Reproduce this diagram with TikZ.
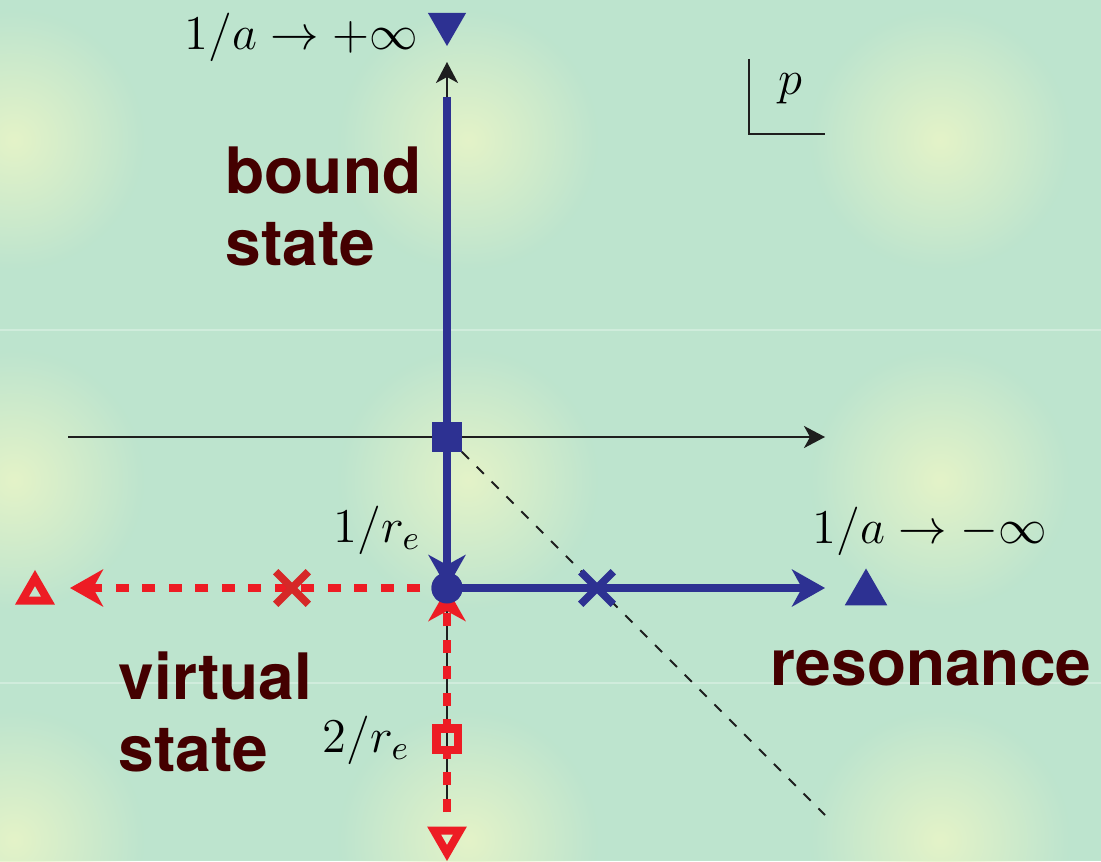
\RequirePackage{fix-cm}
\documentclass[tikz,border=0pt]{standalone}
\usepackage{fontspec}
\usepackage{tikz}
\usetikzlibrary{arrows.meta, shapes.geometric, shapes.misc, fadings}
\newfontfamily\headfont{TeX Gyre Heros}
\definecolor{bgclr}    {RGB}{189, 228, 206}
\definecolor{glowclr}  {RGB}{228, 243, 200}
\definecolor{blueclr}  {RGB}{ 45,  49, 146}
\definecolor{redclr}   {RGB}{237,  28,  36}
\definecolor{crossred} {RGB}{214,  40,  40}
\definecolor{labelclr} {RGB}{ 68,   0,   0}
\definecolor{darktext} {RGB}{ 30,  30,  30}
\tikzfading[name=glowfade, inner color=transparent!0, outer color=transparent!100]

\begin{document}
\begin{tikzpicture}[x=0.01cm, y=-0.01cm,
  bigtip/.style={-{Stealth[length=0.33cm, width=0.37cm, inset=0.1cm]}},
  smalltip/.style={-{Stealth[length=0.21cm, width=0.22cm, inset=0.06cm]}},
  axisline/.style={darktext, line width=0.02cm},
  blueline/.style={blueclr, line width=0.08cm},
  redline/.style={redclr, line width=0.075cm, dash pattern=on 0.13cm off 0.135cm},
  statelabel/.style={text=labelclr, inner sep=0, align=left,
    font=\headfont\bfseries\fontsize{18.2}{20.5}\selectfont},
  mathlabel/.style={inner sep=0, anchor=base west, font=\fontsize{13.8}{16}\selectfont},
  fullsq/.style={rectangle, fill=blueclr, minimum size=0.30cm, inner sep=0},
  fulldot/.style={circle, fill=blueclr, minimum size=0.31cm, inner sep=0},
  opensq/.style={rectangle, draw=redclr, line width=0.085cm, minimum size=0.215cm, inner sep=0},
  crossmark/.style={cross out, line width=0.075cm, minimum size=0.25cm, inner sep=0},
  uptri/.style={regular polygon, regular polygon sides=3, inner sep=0},
  downtri/.style={uptri, shape border rotate=180}]
  \useasboundingbox (0,0) rectangle (1101,861);
  % background
  \begin{scope}
    \clip (0,0) rectangle (1101,861);
    \fill[bgclr] (0,0) rectangle (1101,861);
    \foreach \gx in {14,468,940}
      \foreach \gy in {140,480,840}
        \fill[glowclr, path fading=glowfade] (\gx,\gy) circle (1.3cm);
    \draw[white, opacity=0.3, line width=0.4pt] (0,330) -- (1101,330);
    \draw[white, opacity=0.3, line width=0.4pt] (0,683) -- (1101,683);
  \end{scope}
  % end points
  \coordinate (xl) at (68,437);
  \coordinate (xr) at (825,437);
  \coordinate (yt) at (447,62);
  \coordinate (yb) at (447,812);
  \coordinate (bt) at (447,97);
  \coordinate (dg) at (825,815);
  \coordinate (rl) at (70,588);
  \coordinate (br) at (825,588);
  % markers
  \node[fullsq] (sqO) at (447,437) {};
  \node[fulldot] (dot) at (447,588) {};
  % axes
  \draw[axisline, smalltip] (xl) -- (xr);
  \draw[axisline, smalltip] (yb) -- (yt);
  \draw[axisline, dash pattern=on 0.10cm off 0.11cm] (sqO.center) -- (dg);
  % virtual state branch
  \draw[redline, bigtip] (dot.center) -- (rl);
  \draw[redline, bigtip] (yb) -- (dot.center);
  % bound state and resonance branch
  \draw[blueline, bigtip] (bt) -- (dot.center);
  \draw[blueline, bigtip] (dot.center) -- (br);
  \node[fullsq] at (sqO) {};
  \node[fulldot] at (dot) {};
  \node[crossmark, draw=blueclr] (xres) at (597,588) {};
  \node[crossmark, draw=crossred] (xvir) at (292,588) {};
  \node[opensq] (sqtwo) at (447,739) {};
  \node[downtri, fill=blueclr, minimum size=0.44cm] (tritop) at (447,24) {};
  \node[uptri, fill=blueclr, minimum size=0.49cm] (triright) at (866,593) {};
  \node[uptri, draw=redclr, line width=0.08cm, minimum size=0.30cm] (trileft) at (35,593) {};
  \node[downtri, draw=redclr, line width=0.08cm, minimum size=0.30cm] (tribot) at (447,838) {};
  % p corner
  \coordinate (ct) at (749,59);
  \coordinate (cc) at (749,134);
  \coordinate (cr) at (825,134);
  \draw[axisline] (ct) -- (cc) -- (cr);
  \node[mathlabel] (plab) at (778,95) {$p$};
  % labels
  \node[mathlabel] (ainf) at (184,50) {$1/a \to +\infty$};
  \node[mathlabel] (aminf) at (812,543) {$1/a \to -\infty$};
  \node[mathlabel] (reone) at (333,542) {$1/r_e$};
  \node[mathlabel] (retwo) at (322,752) {$2/r_e$};
  \node[statelabel, anchor=north west] (bound) at (225,146) {bound\\state};
  \node[statelabel, anchor=north west] (virtual) at (118,651) {virtual\\state};
  \node[statelabel, anchor=base west] (reson) at (770,685) {resonance};
\end{tikzpicture}
\end{document}
